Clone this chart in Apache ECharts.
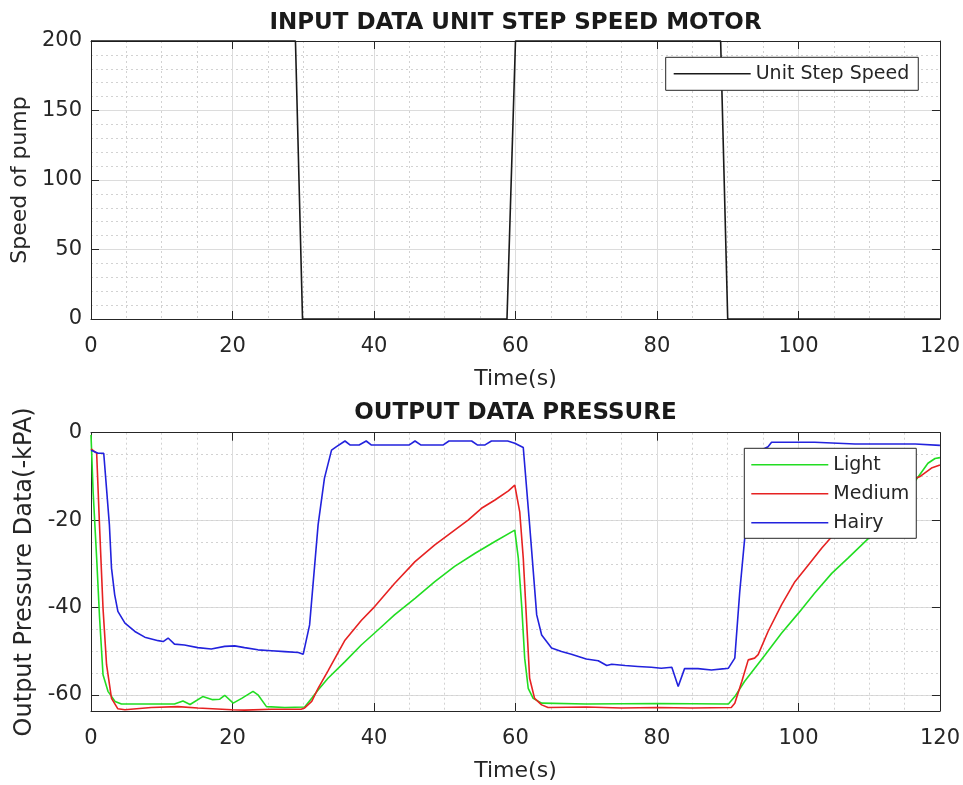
<!DOCTYPE html>
<html>
<head>
<meta charset="utf-8">
<script src="https://cdn.jsdelivr.net/npm/echarts@6/dist/echarts.min.js"></script>
<style>
  html, body { margin: 0; padding: 0; background: #ffffff; }
  #chart { width: 963px; height: 785px; }
</style>
</head>
<body>
<div id="chart"></div>
<script>
// ---------- DATA ----------
// Input: unit step speed (top panel)
var stepTime  = [0, 28.9, 29.9, 58.8, 60.0, 89.0, 90.0, 120];
var stepSpeed = [200, 200, 0, 0, 200, 200, 0, 0];

// Output pressure (bottom panel)
var lightTime = [0, 0.3, 0.8, 1.2, 1.7, 2.4, 3.4, 4.3, 8, 11.8, 13.0, 14.0, 15.8, 17.2, 18.2, 18.9, 20.1, 21.3, 22.9, 23.6, 24.8, 27.4, 30.2, 31.2, 32.1, 33.5, 35.9, 38.2, 40.6, 42.9, 45.8, 48.6, 51.4, 54.3, 57.1, 59.9, 60.4, 60.9, 61.3, 61.8, 62.5, 63.7, 70, 80, 90.1, 91.0, 92.4, 95.3, 97.6, 100, 102.3, 104.7, 107, 109.9, 112, 114, 116, 118.3, 119.3, 120];
var lightVal  = [-0.5, -13.5, -28.7, -42, -55.4, -59.2, -61.5, -62.1, -62.1, -62.1, -61.4, -62.2, -60.4, -61.1, -61.0, -60.1, -61.9, -60.8, -59.2, -60.0, -62.7, -62.9, -62.8, -60.8, -58.9, -56.2, -52.4, -48.6, -45.1, -41.7, -37.9, -34.1, -30.6, -27.6, -24.9, -22.3, -28.7, -40.2, -51.6, -58.5, -60.8, -61.9, -62.1, -62.0, -62.1, -60.4, -56.9, -50.8, -45.9, -41.3, -36.7, -32.2, -28.7, -24.2, -20.3, -16.4, -12.2, -7.0, -5.9, -5.7];

var mediumTime = [0, 0.8, 1.2, 1.7, 2.2, 2.9, 3.8, 4.8, 8.5, 12.3, 15.1, 19.9, 21.7, 25.5, 29.7, 30.2, 31.2, 32.1, 33.5, 35.9, 38.2, 40.1, 42.9, 45.8, 48.6, 51.4, 53.3, 55.2, 57.1, 59.0, 59.9, 60.6, 61.1, 61.6, 62.0, 62.7, 63.7, 64.6, 70, 75, 80, 85, 90.5, 91.0, 92.0, 92.9, 93.8, 94.3, 95.7, 97.6, 99.5, 101.4, 103.3, 104.7, 106, 108, 110, 112, 114, 116, 117.2, 118.8, 120];
var mediumVal  = [-3.7, -4.7, -21.1, -40.2, -53.1, -60.8, -63.2, -63.4, -62.9, -62.7, -63.0, -63.4, -63.5, -63.3, -63.3, -63.0, -61.5, -58.5, -54.5, -47.5, -43.0, -39.8, -34.5, -29.5, -25.7, -22.3, -20.0, -17.3, -15.4, -13.3, -12.0, -18.1, -28.7, -44.0, -56.2, -60.8, -62.3, -62.9, -62.8, -63.0, -62.9, -63.0, -62.9, -61.9, -56.9, -52.0, -51.6, -50.8, -45.5, -39.4, -34.1, -30.3, -26.4, -23.8, -21.7, -18.8, -16.2, -14.0, -12.2, -10.8, -10.0, -8.1, -7.4];

var hairyTime = [0, 1.0, 1.8, 2.6, 2.9, 3.35, 3.8, 4.8, 6.2, 7.6, 9.5, 10.2, 10.9, 11.8, 13.2, 15.1, 17.0, 18.9, 20.3, 21.7, 23.6, 25.5, 27.4, 29.3, 30.0, 30.9, 32.1, 33.0, 34.0, 34.7, 35.9, 36.6, 37.9, 38.9, 39.6, 45.0, 45.8, 46.6, 49.8, 50.6, 53.8, 54.6, 55.7, 56.6, 57.1, 58.9, 59.9, 61.1, 62.0, 63.0, 63.7, 65.1, 66.5, 67.9, 70.0, 71.7, 72.9, 73.6, 75.5, 77.3, 79.2, 80.6, 82.1, 83.0, 83.9, 85.8, 87.7, 89.6, 90.1, 91.0, 91.7, 92.4, 93.0, 93.6, 94.3, 95.0, 95.7, 96.2, 102.3, 108, 116.5, 120];
var hairyVal  = [-4.0, -4.7, -4.7, -21.1, -31.0, -37.1, -40.9, -43.6, -45.5, -46.8, -47.6, -47.8, -47.0, -48.4, -48.6, -49.2, -49.5, -48.9, -48.8, -49.2, -49.7, -49.9, -50.1, -50.3, -50.7, -44.0, -21.1, -10.4, -4.0, -3.2, -1.9, -2.8, -2.8, -1.9, -2.8, -2.8, -1.9, -2.8, -2.8, -1.9, -1.9, -2.8, -2.8, -1.9, -1.9, -1.9, -2.4, -3.4, -21.1, -41.7, -46.3, -49.3, -50.1, -50.7, -51.8, -52.2, -53.3, -53.0, -53.3, -53.5, -53.7, -53.9, -53.7, -58.1, -54.0, -54.0, -54.3, -54.0, -53.9, -51.6, -36.4, -24.2, -16.0, -9.0, -5.0, -3.8, -3.2, -2.2, -2.2, -2.6, -2.6, -2.9];

var xTickValues = [0, 20, 40, 60, 80, 100, 120];

// ---------- helpers ----------
function zip(t, v) { var out = []; for (var i = 0; i < t.length; i++) out.push([t[i], v[i]]); return out; }

var AX = '#262626';
var FONT = 'DejaVu Sans';
var majorGrid = { show: true, lineStyle: { color: '#dcdcdc', width: 1, type: 'solid' } };
var minorGrid = { show: true, lineStyle: { color: '#d2d2d2', width: 1, type: [2, 3] } };

function xMain(gridIndex) {
  return {
    type: 'value', gridIndex: gridIndex, position: 'bottom',
    min: xTickValues[0], max: xTickValues[xTickValues.length - 1], interval: 20,
    axisLine: { show: true, onZero: false, lineStyle: { color: AX, width: 1 } },
    axisTick: { show: true, inside: true, length: 8, lineStyle: { color: AX } },
    axisLabel: { show: true, fontSize: 21, color: AX, margin: 17, fontFamily: FONT },
    splitLine: majorGrid,
    minorTick: { show: false, splitNumber: 4 },
    minorSplitLine: minorGrid,
    name: 'Time(s)', nameLocation: 'middle', nameGap: 49,
    nameTextStyle: { fontSize: 22, color: AX, fontFamily: FONT }
  };
}
function xTop(gridIndex) {
  return {
    type: 'value', gridIndex: gridIndex, position: 'top',
    min: 0, max: 120, interval: 20,
    axisLine: { show: true, onZero: false, lineStyle: { color: AX, width: 1 } },
    axisTick: { show: true, inside: true, length: 8, lineStyle: { color: AX } },
    axisLabel: { show: false }, splitLine: { show: false }
  };
}

var option = {
  animation: false,
  backgroundColor: '#ffffff',
  textStyle: { fontFamily: FONT },
  title: [
    { text: 'INPUT DATA UNIT STEP SPEED MOTOR', left: 515.5, top: 12, padding: 0, textAlign: 'center',
      textStyle: { fontSize: 23, fontWeight: 'bold', color: '#1a1a1a', fontFamily: FONT } },
    { text: 'OUTPUT DATA PRESSURE', left: 515.5, top: 402, padding: 0, textAlign: 'center',
      textStyle: { fontSize: 23, fontWeight: 'bold', color: '#1a1a1a', fontFamily: FONT } }
  ],
  grid: [
    { left: 91, top: 41, width: 849, height: 278, show: false },
    { left: 91, top: 432.7, width: 849, height: 278.3, show: false }
  ],
  legend: [
    { data: ['Unit Step Speed'], orient: 'vertical', left: 665.7, top: 57.3,
      icon: 'rect', padding: [7, 9, 7, 8], itemWidth: 77, itemHeight: 1.6, itemGap: 8,
      backgroundColor: '#ffffff', borderColor: AX, borderWidth: 1, borderRadius: 0,
      textStyle: { fontSize: 19, color: AX, fontFamily: FONT } },
    { data: ['Light', 'Medium', 'Hairy'], orient: 'vertical', left: 744.3, top: 448.3,
      icon: 'rect', padding: [7, 7, 6, 7], itemWidth: 77, itemHeight: 1.6, itemGap: 10,
      backgroundColor: '#ffffff', borderColor: AX, borderWidth: 1, borderRadius: 0,
      textStyle: { fontSize: 19, color: AX, fontFamily: FONT } }
  ],
  xAxis: [ xMain(0), xTop(0), xMain(1), xTop(1) ],
  yAxis: [
    { type: 'value', gridIndex: 0, position: 'left', min: 0, max: 200, interval: 50,
      axisLine: { show: true, onZero: false, lineStyle: { color: AX, width: 1 } },
      axisTick: { show: true, inside: true, length: 8, lineStyle: { color: AX } },
      axisLabel: { fontSize: 21, color: AX, margin: 9, fontFamily: FONT },
      splitLine: majorGrid,
      minorTick: { show: false, splitNumber: 5 },
      minorSplitLine: minorGrid,
      name: 'Speed of pump', nameLocation: 'middle', nameGap: 56,
      nameTextStyle: { fontSize: 22, color: AX, fontFamily: FONT } },
    { type: 'value', gridIndex: 0, position: 'right', min: 0, max: 200, interval: 50,
      axisLine: { show: true, onZero: false, lineStyle: { color: AX, width: 1 } },
      axisTick: { show: true, inside: true, length: 8, lineStyle: { color: AX } },
      axisLabel: { show: false }, splitLine: { show: false } },
    { type: 'value', gridIndex: 1, position: 'left', min: -63.7, max: 0, splitNumber: 3,
      axisLine: { show: true, onZero: false, lineStyle: { color: AX, width: 1 } },
      axisTick: { show: true, inside: true, length: 8, lineStyle: { color: AX } },
      axisLabel: { fontSize: 21, color: AX, margin: 9, fontFamily: FONT, showMinLabel: false },
      splitLine: { show: true, showMinLine: false, lineStyle: { color: '#dcdcdc', width: 1 } },
      name: 'Output Pressure Data(-kPA)', nameLocation: 'middle', nameGap: 47,
      nameTextStyle: { fontSize: 24, color: AX, fontFamily: FONT } },
    { type: 'value', gridIndex: 1, position: 'right', min: -63.7, max: 0, splitNumber: 3,
      axisLine: { show: true, onZero: false, lineStyle: { color: AX, width: 1 } },
      axisTick: { show: true, inside: true, length: 8, lineStyle: { color: AX } },
      axisLabel: { show: false }, splitLine: { show: false } },
    // helper axis for the dotted minor grid of the bottom panel (same pixel mapping, inverted)
    { type: 'value', gridIndex: 1, position: 'left', inverse: true, min: 0, max: 63.7, interval: 5,
      axisLine: { show: false }, axisTick: { show: false }, axisLabel: { show: false },
      splitLine: { show: true, showMinLine: false, showMaxLine: false,
                   lineStyle: { color: '#d2d2d2', width: 1, type: [2, 3] } } }
  ],
  series: [
    { name: 'Unit Step Speed', type: 'line', xAxisIndex: 0, yAxisIndex: 0,
      data: zip(stepTime, stepSpeed), symbol: 'none', clip: false,
      lineStyle: { color: '#1a1a1a', width: 1.6 }, itemStyle: { color: '#1a1a1a' } },
    { name: 'Light', type: 'line', xAxisIndex: 2, yAxisIndex: 2,
      data: zip(lightTime, lightVal), symbol: 'none',
      lineStyle: { color: '#22dd22', width: 1.6 }, itemStyle: { color: '#22dd22' } },
    { name: 'Medium', type: 'line', xAxisIndex: 2, yAxisIndex: 2,
      data: zip(mediumTime, mediumVal), symbol: 'none',
      lineStyle: { color: '#e62222', width: 1.6 }, itemStyle: { color: '#e62222' } },
    { name: 'Hairy', type: 'line', xAxisIndex: 2, yAxisIndex: 2,
      data: zip(hairyTime, hairyVal), symbol: 'none',
      lineStyle: { color: '#2222dd', width: 1.6 }, itemStyle: { color: '#2222dd' } }
  ]
};

var chart = echarts.init(document.getElementById('chart'), null, { renderer: 'canvas' });
chart.setOption(option);
</script>
</body>
</html>
